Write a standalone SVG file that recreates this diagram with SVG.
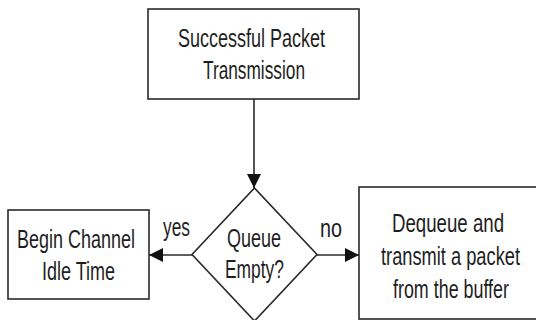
<svg xmlns="http://www.w3.org/2000/svg" width="536" height="320" viewBox="0 0 536 320">
<defs>
<style>
.box{fill:#fff;stroke:#2a2a2a;stroke-width:1.6}
.ln{fill:none;stroke:#2a2a2a;stroke-width:1.6}
.t{font-family:"Liberation Sans Narrow","Liberation Sans",Arial,sans-serif;font-size:26px;fill:#1e1e1e}
</style>
<marker id="ah" markerUnits="userSpaceOnUse" markerWidth="16" markerHeight="16" refX="14" refY="7" orient="auto">
<path d="M0,0 L14,7 L0,14 Z" fill="#111"/>
</marker>
</defs>
<rect width="536" height="320" fill="#fff"/>
<g id="connectors">
<line class="ln" x1="254" y1="99" x2="254" y2="188" marker-end="url(#ah)"/>
<line class="ln" x1="192" y1="255" x2="149" y2="255" marker-end="url(#ah)"/>
<line class="ln" x1="317" y1="255" x2="359" y2="255" marker-end="url(#ah)"/>
<text class="t" x="163" y="236" textLength="27" lengthAdjust="spacingAndGlyphs">yes</text>
<text class="t" x="320" y="237" textLength="22" lengthAdjust="spacingAndGlyphs">no</text>
</g>
<g id="start">
<rect class="box" x="148" y="9" width="211" height="90"/>
<text class="t" x="178" y="47" textLength="147" lengthAdjust="spacingAndGlyphs">Successful Packet</text>
<text class="t" x="203" y="79" textLength="102" lengthAdjust="spacingAndGlyphs">Transmission</text>
</g>
<g id="decision">
<polygon class="box" points="254.5,188 317,254.5 254.5,321 192,254.5"/>
<text class="t" x="227" y="247" textLength="54" lengthAdjust="spacingAndGlyphs">Queue</text>
<text class="t" x="225" y="278" textLength="59" lengthAdjust="spacingAndGlyphs">Empty?</text>
</g>
<g id="idle">
<rect class="box" x="8" y="210" width="141" height="89"/>
<text class="t" x="17" y="248" textLength="118" lengthAdjust="spacingAndGlyphs">Begin Channel</text>
<text class="t" x="42" y="280" textLength="73" lengthAdjust="spacingAndGlyphs">Idle Time</text>
</g>
<g id="dequeue">
<rect class="box" x="359" y="187" width="190" height="132"/>
<text class="t" x="392" y="232" textLength="112" lengthAdjust="spacingAndGlyphs">Dequeue and</text>
<text class="t" x="381" y="265" textLength="139" lengthAdjust="spacingAndGlyphs">transmit a packet</text>
<text class="t" x="393" y="298" textLength="116" lengthAdjust="spacingAndGlyphs">from the buffer</text>
</g>
</svg>
